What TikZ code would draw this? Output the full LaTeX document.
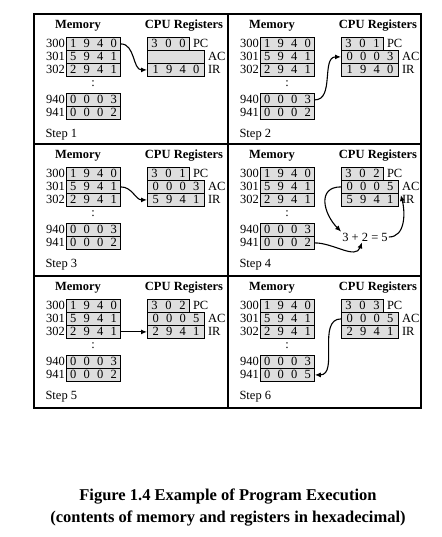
\documentclass[tikz,border=0pt]{standalone}
\usepackage{fontspec}
\setmainfont{Liberation Serif}
\usetikzlibrary{arrows.meta}
\newcommand\fourd[4]{\makebox[13.5pt]{#1}\makebox[13.5pt]{#2}\makebox[13.5pt]{#3}\makebox[13.5pt]{#4}}
\newcommand\threed[3]{\makebox[14pt]{#1}\makebox[14pt]{#2}\makebox[14pt]{#3}}
\tikzset{
  cell/.style={draw,fill=black!13,line width=0.8pt,inner sep=0pt,minimum height=13pt,anchor=north west},
  head/.style={font=\bfseries\fontsize{12.5}{14}\selectfont},
  link/.style={-{Latex[length=6pt,width=5pt]},line width=1.1pt}
}
\begin{document}
\begin{tikzpicture}[x=1pt,y=-1pt,every node/.style={font=\fontsize{12.5}{14}\selectfont}]
\useasboundingbox (0,0) rectangle (441,537);
% frame
\draw[line width=1.6pt] (34,14) rectangle (421,408);
\draw[line width=1.4pt] (228,14) -- (228,408);
\draw[line width=1.4pt] (34,144) -- (421,144);
\draw[line width=1.4pt] (34,276) -- (421,276);
% the six steps
\foreach \s/\px/\py/\last/\pc/\ac/\ir in {
    1/34/14/2/{\threed 300}/{}/{\fourd 1940},
    2/228/14/2/{\threed 301}/{\fourd 0003}/{\fourd 1940},
    3/34/144/2/{\threed 301}/{\fourd 0003}/{\fourd 5941},
    4/228/144/2/{\threed 302}/{\fourd 0005}/{\fourd 5941},
    5/34/276/2/{\threed 302}/{\fourd 0005}/{\fourd 2941},
    6/228/276/5/{\threed 303}/{\fourd 0005}/{\fourd 2941}} {
  \begin{scope}[shift={(\px,\py)}]
    \node[head] at (44,12) {Memory};
    \node[head] at (150,12) {CPU Registers};
    \node[cell,minimum width=54pt] (m300-\s) at (32,23) {\fourd 1940};
    \node[cell,minimum width=54pt] (m301-\s) at (32,36) {\fourd 5941};
    \node[cell,minimum width=54pt] (m302-\s) at (32,49) {\fourd 2941};
    \node[inner sep=0pt] at (59,70) {:};
    \node[cell,minimum width=54pt] (m940-\s) at (32,79) {\fourd 0003};
    \node[cell,minimum width=54pt] (m941-\s) at (32,92) {\fourd 000\last};
    \node[anchor=east,inner sep=1pt] at (m300-\s.west) {300};
    \node[anchor=east,inner sep=1pt] at (m301-\s.west) {301};
    \node[anchor=east,inner sep=1pt] at (m302-\s.west) {302};
    \node[anchor=east,inner sep=1pt] at (m940-\s.west) {940};
    \node[anchor=east,inner sep=1pt] at (m941-\s.west) {941};
    \node[cell,minimum width=42pt] (pc\s) at (113,23) {\pc};
    \node[cell,minimum width=57pt] (ac\s) at (113,36) {\ac};
    \node[cell,minimum width=57pt] (ir\s) at (113,49) {\ir};
    \node[anchor=west,inner sep=3pt] at (pc\s.east) {PC};
    \node[anchor=west,inner sep=3pt] at (ac\s.east) {AC};
    \node[anchor=west,inner sep=3pt] at (ir\s.east) {IR};
    \node[anchor=west] at (8,121) {Step \s};
  \end{scope}
}
% data flow
\draw[link] (m300-1.east) to[out=0,in=180] (ir1.west);
\draw[link] (m940-2.east) to[out=0,in=180] (ac2.west);
\draw[link] (m301-3.east) to[out=0,in=180] (ir3.west);
\node[inner sep=1pt] (sum) at (365,237) {3 + 2 = 5};
\draw[link] (ac4.west) to[out=180,in=135,looseness=1.4] (sum.north west);
\draw[link] (m941-4.east) to[out=0,in=-110] ([xshift=-3pt]sum.south);
\draw[link] (sum.east) to[out=0,in=-75] ([xshift=2pt,yshift=-2pt]ir4.north east);
\draw[link] (m302-5.east) -- (ir5.west);
\draw[link] (ac6.west) to[out=180,in=0] (m941-6.east);
% caption
\node[font=\bfseries\fontsize{16.5}{22}\selectfont,align=center] (caption) at (228,508)
  {Figure 1.4 Example of Program Execution\\(contents of memory and registers in hexadecimal)};
\end{tikzpicture}
\end{document}
